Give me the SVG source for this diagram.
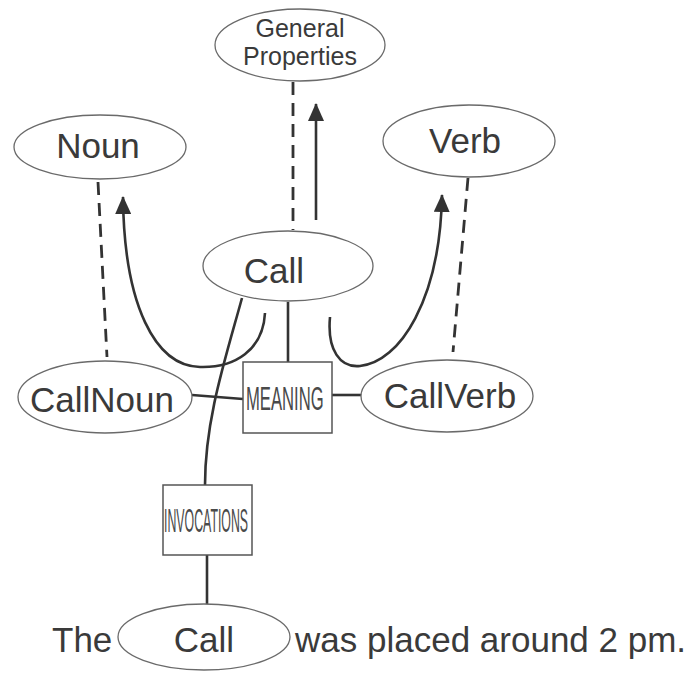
<svg xmlns="http://www.w3.org/2000/svg" width="694" height="675" viewBox="0 0 694 675">
  <style>
    .node ellipse { fill: #ffffff; stroke: #6a6a6a; stroke-width: 1.3; }
    .box rect { fill: #ffffff; stroke: #555555; stroke-width: 1.5; }
    .lbl { font-family: "Liberation Sans", Arial, sans-serif; font-size: 35px; fill: #3a3a3a; text-anchor: middle; }
    .small { font-size: 25px; }
    .cond { font-family: "Liberation Sans", Arial, sans-serif; font-size: 34px; fill: #4a4a4a; }
    .plain { font-family: "Liberation Sans", Arial, sans-serif; font-size: 35px; fill: #3a3a3a; }
    .edge { fill: none; stroke: #333333; stroke-width: 2.6; }
    .dash { fill: none; stroke: #333333; stroke-width: 2.8; stroke-dasharray: 13 8; }
  </style>
  <defs>
    <marker id="arrow" viewBox="0 0 18 16" refX="17" refY="8" markerWidth="18" markerHeight="16" markerUnits="userSpaceOnUse" orient="auto">
      <path d="M0,0 L18,8 L0,16 Z" fill="#333333"/>
    </marker>
  </defs>

  <!-- connectors -->
  <g id="connectors">
    <line class="dash" x1="293" y1="82" x2="293" y2="230"/>
    <line class="edge" x1="316" y1="220" x2="316" y2="104" marker-end="url(#arrow)"/>
    <line class="dash" x1="98" y1="182" x2="107" y2="357"/>
    <line class="dash" x1="468" y1="178" x2="453" y2="352"/>
    <path class="edge" d="M265,313 C263,350 235,368 200,367 C155,366 124,305 123,197" marker-end="url(#arrow)"/>
    <path class="edge" d="M330,317 C327,350 340,368 360,366 C400,362 440,300 442,195" marker-end="url(#arrow)"/>
    <line class="edge" x1="288" y1="302" x2="288" y2="362"/>
    <line class="edge" x1="192" y1="395" x2="243" y2="399"/>
    <line class="edge" x1="332" y1="395" x2="362" y2="395"/>
    <path class="edge" d="M242,298 C225,360 205,420 205,485"/>
    <line class="edge" x1="207" y1="555" x2="207" y2="605"/>
  </g>

  <g id="general-properties" class="node">
    <ellipse cx="300" cy="45" rx="85" ry="36"/>
    <text class="lbl small" x="300" y="37">General</text>
    <text class="lbl small" x="300" y="65">Properties</text>
  </g>

  <g id="noun" class="node">
    <ellipse cx="100" cy="147" rx="86" ry="32"/>
    <text class="lbl" x="98" y="158">Noun</text>
  </g>

  <g id="verb" class="node">
    <ellipse cx="469" cy="141" rx="86" ry="36"/>
    <text class="lbl" x="465" y="153">Verb</text>
  </g>

  <g id="call" class="node">
    <ellipse cx="288" cy="266" rx="85" ry="35"/>
    <text class="lbl" x="274" y="283">Call</text>
  </g>

  <g id="callnoun" class="node">
    <ellipse cx="105" cy="397" rx="87" ry="36"/>
    <text class="lbl" x="102" y="412">CallNoun</text>
  </g>

  <g id="callverb" class="node">
    <ellipse cx="447" cy="396" rx="86" ry="36"/>
    <text class="lbl" x="450" y="408">CallVerb</text>
  </g>

  <!-- box labels use a horizontally squeezed face -->
  <g id="meaning" class="box">
    <rect x="243" y="362" width="89" height="71"/>
    <text class="cond" transform="translate(246,410) scale(0.49,1)">MEANING</text>
  </g>

  <g id="invocations" class="box">
    <rect x="163" y="485" width="89" height="70"/>
    <text class="cond" transform="translate(164,532) scale(0.363,1)">INVOCATIONS</text>
  </g>

  <g id="sentence">
    <text class="plain" x="52" y="652">The</text>
    <g id="call-token" class="node">
      <ellipse cx="204" cy="637" rx="86" ry="33"/>
      <text class="lbl" x="204" y="652">Call</text>
    </g>
    <text class="plain" x="295" y="652">was placed around 2 pm.</text>
  </g>
</svg>
